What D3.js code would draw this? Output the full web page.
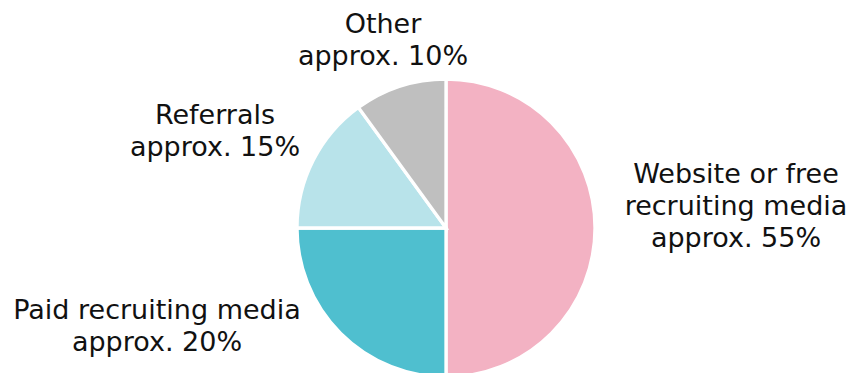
<!doctype html>
<html>
<head>
    <meta charset="UTF-8">
    <title>Recruiting channels</title>
    <script src="https://d3js.org/d3.v7.min.js"></script>
    <style>
        body { margin: 0; background: #fff; }
        text { font-family: "DejaVu Sans", Verdana, sans-serif; fill: #111; }
    </style>
</head>
<body>
    <svg width="851" height="373"></svg>
    <script>
        // slice sizes as drawn, labels as printed
        var categories = ["Website or free recruiting media", "Paid recruiting media", "Referrals", "Other"];
        var values = [50, 25, 15, 10];
        var labelLines = [
            ["Website or free", "recruiting media", "approx. 55%"],
            ["Paid recruiting media", "approx. 20%"],
            ["Referrals", "approx. 15%"],
            ["Other", "approx. 10%"]
        ];
        var colors = ["#f3b2c3", "#4fbfcf", "#b8e3ea", "#bfbfbf"];

        var w = 851, h = 373;
        var cx = 446, cy = 228, r = 149;
        var fontSize = 27, lineH = 32;
        // first baseline of each label block
        var labelPos = [[736, 183], [157, 319], [215, 124], [383, 33]];

        var svg = d3.select("svg");
        var g = svg.append("g").attr("transform", "translate(" + cx + "," + cy + ")");

        var pie = d3.pie().sort(null).value(function (d) { return d; });
        var arc = d3.arc().innerRadius(0).outerRadius(r);

        g.selectAll("path")
            .data(pie(values))
            .enter()
            .append("path")
            .attr("d", arc)
            .attr("fill", function (d, i) { return colors[i]; })
            .attr("stroke", "#fff")
            .attr("stroke-width", 3.3)
            .attr("stroke-linejoin", "miter");

        var labels = svg.selectAll("text.lbl")
            .data(labelLines)
            .enter()
            .append("text")
            .attr("class", "lbl")
            .attr("text-anchor", "middle")
            .attr("font-size", fontSize)
            .attr("x", function (d, i) { return labelPos[i][0]; })
            .attr("y", function (d, i) { return labelPos[i][1]; });

        labels.selectAll("tspan")
            .data(function (d, i) { return d.map(function (t) { return { t: t, i: i }; }); })
            .enter()
            .append("tspan")
            .attr("x", function (d) { return labelPos[d.i][0]; })
            .attr("dy", function (d, j) { return j === 0 ? 0 : lineH; })
            .text(function (d) { return d.t; });
    </script>
</body>
</html>
